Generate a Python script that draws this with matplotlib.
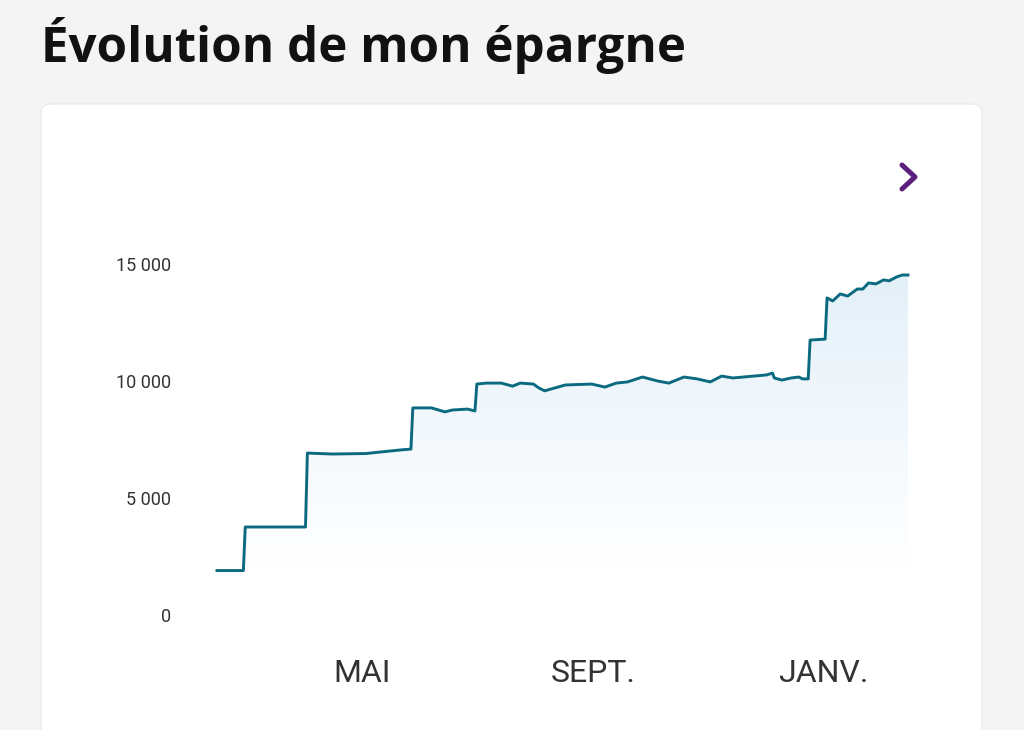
import numpy as np
import pandas as pd
import matplotlib
matplotlib.use("Agg")
import matplotlib.pyplot as plt
import matplotlib.dates as mdates
from matplotlib.patches import FancyBboxPatch
from matplotlib.lines import Line2D

# savings balance (euros)
dates = pd.to_datetime([
    "2023-02-13", "2023-02-27", "2023-02-28", "2023-04-01", "2023-04-02",
    "2023-04-15", "2023-05-03", "2023-05-15", "2023-05-21", "2023-05-27",
    "2023-05-28", "2023-06-07", "2023-06-14", "2023-06-18", "2023-06-26",
    "2023-06-30", "2023-07-01", "2023-07-06", "2023-07-14", "2023-07-20",
    "2023-07-24", "2023-07-31", "2023-08-03", "2023-08-06", "2023-08-17",
    "2023-08-31", "2023-09-07", "2023-09-13", "2023-09-19", "2023-09-27",
    "2023-10-05", "2023-10-11", "2023-10-19", "2023-10-26", "2023-11-02",
    "2023-11-08", "2023-11-14", "2023-11-25", "2023-12-02", "2023-12-05",
    "2023-12-06", "2023-12-10", "2023-12-15", "2023-12-19", "2023-12-21",
    "2023-12-24", "2023-12-25", "2024-01-02", "2024-01-03", "2024-01-06",
    "2024-01-10", "2024-01-14", "2024-01-19", "2024-01-22", "2024-01-25",
    "2024-01-29", "2024-02-02", "2024-02-05", "2024-02-09", "2024-02-12",
    "2024-02-15",
])
balance = [
    1900, 1900, 3760, 3760, 6920,
    6880, 6900, 7000, 7050, 7090,
    8850, 8850, 8680, 8760, 8800,
    8720, 9870, 9910, 9910, 9780,
    9910, 9870, 9700, 9580, 9830,
    9870, 9740, 9910, 9960, 10170,
    10000, 9910, 10170, 10090, 9960,
    10210, 10130, 10210, 10260, 10340,
    10130, 10040, 10130, 10170, 10090,
    10090, 11750, 11790, 13550, 13420,
    13720, 13630, 13930, 13930, 14190,
    14150, 14320, 14280, 14450, 14530,
    14530,
]
y_ticks = [0, 5000, 10000, 15000]
y_labels = ["0", "5 000", "10 000", "15 000"]
x_ticks = pd.to_datetime(["2023-05-01", "2023-09-01", "2024-01-01"])
x_labels = ["MAI", "SEPT.", "JANV."]

W, H = 1024, 730
fig = plt.figure(figsize=(W / 100, H / 100), dpi=100)
fig.patch.set_facecolor("#f4f4f4")

# white card
card = FancyBboxPatch((41 / W, -0.05), 941 / W, (H - 104) / H + 0.05,
                      boxstyle="round,pad=0,rounding_size=0.011",
                      transform=fig.transFigure, facecolor="white",
                      edgecolor="#e9e9e9", linewidth=0.8, zorder=-5)
fig.patches.append(card)

fig.text(41 / W, 1 - 46 / H, "Évolution de mon épargne", fontsize=35.5,
         fontweight="bold", family="Open Sans", color="#111111",
         va="center", ha="left")

# chevron
fig.add_artist(Line2D([902 / W, 915 / W, 902 / W], [1 - 165 / H, 1 - 177 / H, 1 - 189 / H],
                      color="#5b1f7c", linewidth=3.6, solid_capstyle="round",
                      solid_joinstyle="round", transform=fig.transFigure, zorder=5))

ax = fig.add_axes([217 / W, 1 - 615 / H, (908 - 217) / W, (615 - 264) / H], zorder=2)
ax.set_facecolor("none")
xnum = mdates.date2num(dates)
ax.set_xlim(xnum[0], xnum[-1])
ax.set_ylim(0, 15000)

# gradient fill below the line
grad = np.linspace(0, 1, 256)
img = np.ones((256, 1, 4))
img[:, 0, :3] = [0.89, 0.94, 0.975]
img[:, 0, 3] = np.clip((grad - 0.12) / 0.88, 0, 1) ** 1.1
im = ax.imshow(img, aspect="auto", extent=[xnum[0], xnum[-1], 0, 15000],
               origin="lower", zorder=1)
poly = ax.fill_between(xnum, balance, 0, facecolor="none", edgecolor="none")
im.set_clip_path(poly.get_paths()[0], transform=ax.transData)

ax.plot(xnum, balance, color="#0b6a80", linewidth=2.1, zorder=3,
        solid_joinstyle="round", clip_on=False)

for s in ax.spines.values():
    s.set_visible(False)
ax.set_yticks(y_ticks)
ax.set_yticklabels(y_labels, fontsize=13, family="Roboto", color="#333333")
ax.tick_params(axis="y", length=0, pad=33)
ax.set_xticks(mdates.date2num(x_ticks))
ax.set_xticklabels(x_labels, fontsize=23, family="Roboto", color="#333333")
ax.tick_params(axis="x", length=0, pad=32)

fig.savefig("out.png", dpi=100, facecolor=fig.get_facecolor())
